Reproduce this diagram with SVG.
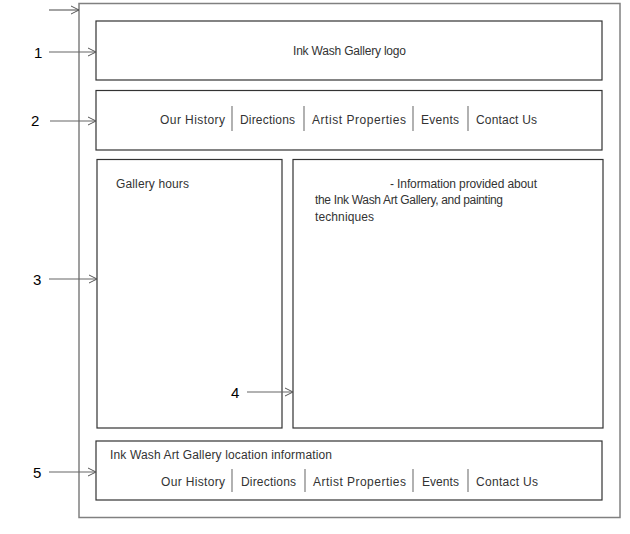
<svg xmlns="http://www.w3.org/2000/svg" width="630" height="534" viewBox="0 0 630 534">
<defs>
<marker id="ah" markerWidth="10" markerHeight="10" refX="9" refY="5" orient="auto" markerUnits="userSpaceOnUse">
<path d="M1,1 L9,5 L1,9" fill="none" stroke="#555" stroke-width="1"/>
</marker>
</defs>
<style>
.outer{fill:none;stroke:#808080;stroke-width:1.5}
.box{fill:#fff;stroke:#333;stroke-width:1.2}
.t{font-family:"Liberation Sans",Arial,sans-serif;font-size:12px;fill:#333}
.num{font-family:"Liberation Sans",Arial,sans-serif;font-size:15px;fill:#000}
.sep{stroke:#888;stroke-width:1.3}
.conn{stroke:#666;stroke-width:1.2;fill:none;marker-end:url(#ah)}
</style>
<rect width="630" height="534" fill="#fff"/>
<g id="page"><rect class="outer" x="79" y="3.5" width="541" height="514"/></g>
<g id="header">
<rect class="box" x="96" y="21" width="506" height="59"/>
<text class="t" x="293" y="55" textLength="113">Ink Wash Gallery logo</text>
</g>
<g id="nav">
<rect class="box" x="96" y="90.5" width="506" height="59.5"/>
<text class="t" x="160" y="124" textLength="65">Our History</text>
<line class="sep" x1="232" y1="106" x2="232" y2="131"/>
<text class="t" x="240" y="124" textLength="55">Directions</text>
<line class="sep" x1="304" y1="106" x2="304" y2="131"/>
<text class="t" x="312" y="124" textLength="94">Artist Properties</text>
<line class="sep" x1="413" y1="106" x2="413" y2="131"/>
<text class="t" x="421" y="124" textLength="38">Events</text>
<line class="sep" x1="468" y1="106" x2="468" y2="131"/>
<text class="t" x="476" y="124" textLength="61">Contact Us</text>
</g>
<g id="sidebar">
<rect class="box" x="97" y="159.5" width="185" height="268.5"/>
<text class="t" x="116" y="188" textLength="73">Gallery hours</text>
</g>
<g id="content">
<rect class="box" x="293" y="159.5" width="310" height="268.5"/>
<text class="t" x="390" y="188" textLength="147">- Information provided about</text>
<text class="t" x="315" y="204" textLength="188">the Ink Wash Art Gallery, and painting</text>
<text class="t" x="315" y="221" textLength="59">techniques</text>
</g>
<g id="footer">
<rect class="box" x="96" y="441" width="506" height="59"/>
<text class="t" x="110" y="459" textLength="222">Ink Wash Art Gallery location information</text>
<text class="t" x="161" y="486" textLength="64">Our History</text>
<line class="sep" x1="232" y1="469" x2="232" y2="492"/>
<text class="t" x="241" y="486" textLength="55">Directions</text>
<line class="sep" x1="305" y1="469" x2="305" y2="492"/>
<text class="t" x="313" y="486" textLength="93">Artist Properties</text>
<line class="sep" x1="413" y1="469" x2="413" y2="492"/>
<text class="t" x="422" y="486" textLength="37">Events</text>
<line class="sep" x1="468" y1="469" x2="468" y2="492"/>
<text class="t" x="476" y="486" textLength="62">Contact Us</text>
</g>
<g id="labels">
<text class="num" x="34" y="58">1</text>
<text class="num" x="31" y="126">2</text>
<text class="num" x="33" y="285">3</text>
<text class="num" x="231" y="398">4</text>
<text class="num" x="33" y="478">5</text>
</g>
<g id="connectors">
<line class="conn" x1="49" y1="10" x2="79" y2="10"/>
<line class="conn" x1="49" y1="52" x2="96" y2="52"/>
<line class="conn" x1="50" y1="121" x2="96" y2="121"/>
<line class="conn" x1="49" y1="279" x2="97" y2="279"/>
<line class="conn" x1="247" y1="392" x2="293" y2="392"/>
<line class="conn" x1="49" y1="472" x2="96" y2="472"/>
</g>
</svg>
